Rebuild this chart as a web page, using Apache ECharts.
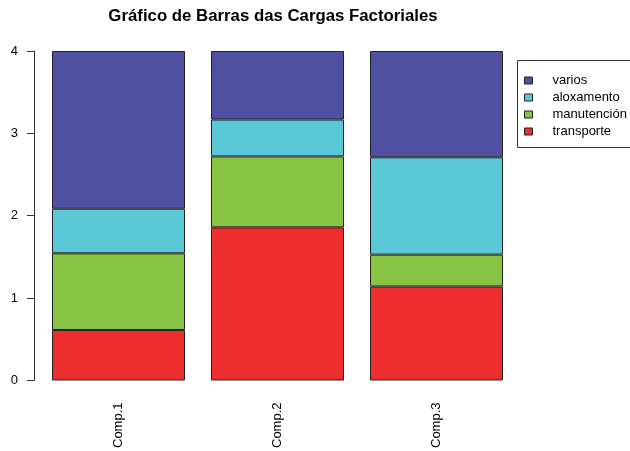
<!DOCTYPE html>
<html>
<head>
<meta charset="utf-8">
<script src="https://cdn.jsdelivr.net/npm/echarts@6/dist/echarts.min.js"></script>
<style>
  html, body { margin: 0; padding: 0; background: #fff; }
  #chart { width: 630px; height: 451px; }
</style>
</head>
<body>
<div id="chart"></div>
<script>
// loadings per component (stacked bottom -> top)
const categories = ['Comp.1', 'Comp.2', 'Comp.3'];
const transporte = [0.613, 1.859, 1.141];
const manutencion = [0.931, 0.861, 0.387];
const aloxamento = [0.541, 0.448, 1.181];
const varios = [1.915, 0.832, 1.291];
const legendOrder = ['varios', 'aloxamento', 'manutención', 'transporte'];

const font = 'Liberation Sans, Arial, Helvetica, sans-serif';

function bar(name, data, color) {
  return {
    name: name,
    type: 'bar',
    stack: 'total',
    data: data,
    barWidth: 133,
    itemStyle: { color: color, borderColor: '#222', borderWidth: 1 },
    emphasis: { disabled: true }
  };
}

let chart = echarts.init(document.getElementById('chart'), null, { renderer: 'canvas' });
let option = {
  animation: false,
  backgroundColor: '#fff',
  title: {
    text: 'Gráfico de Barras das Cargas Factoriales',
    left: 273,
    top: 8,
    padding: 0,
    textAlign: 'center',
    textStyle: { fontFamily: font, fontSize: 16.8, fontWeight: 'bold', color: '#000' }
  },
  // legend box runs off the right edge like the original
  graphic: [{
    type: 'rect',
    left: 517,
    top: 60,
    z: 0,
    shape: { width: 140, height: 87 },
    style: { fill: '#fff', stroke: '#333', lineWidth: 1 }
  }],
  legend: {
    data: legendOrder,
    orient: 'vertical',
    left: 517,
    top: 60,
    z: 5,
    selectedMode: false,
    padding: [12, 10, 8, 7],
    itemWidth: 8,
    itemHeight: 7,
    itemGap: 0,
    icon: 'rect',
    itemStyle: { borderColor: '#222', borderWidth: 1 },
    textStyle: { fontFamily: font, fontSize: 13, color: '#000', lineHeight: 17, padding: [0, 0, 0, 15] }
  },
  grid: { left: 39, right: 114, top: 51, bottom: 70 },
  xAxis: {
    type: 'category',
    data: categories,
    axisLine: { show: false },
    axisTick: { show: false },
    axisLabel: { rotate: 90, margin: 22, fontFamily: font, fontSize: 13, color: '#000' }
  },
  yAxis: {
    type: 'value',
    min: 0,
    max: 4,
    interval: 1,
    offset: 5,
    splitLine: { show: false },
    axisLine: { show: true, lineStyle: { color: '#333', width: 1 } },
    axisTick: { show: true, length: 7, lineStyle: { color: '#333' } },
    axisLabel: { margin: 16, fontFamily: font, fontSize: 13, color: '#000' }
  },
  series: [
    bar('transporte', transporte, '#EE2E2E'),
    bar('manutención', manutencion, '#88C443'),
    bar('aloxamento', aloxamento, '#5BC8D7'),
    bar('varios', varios, '#5050A2')
  ]
};
chart.setOption(option);
window.onresize = () => {
  chart.resize();
};
</script>
</body>
</html>
